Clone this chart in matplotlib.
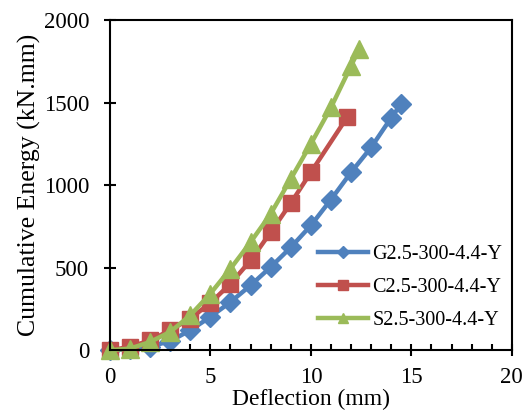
import numpy as np
import matplotlib
matplotlib.use('Agg')
import matplotlib.pyplot as plt
from matplotlib.ticker import MultipleLocator

plt.rcParams['font.family'] = ['Liberation Serif', 'DejaVu Serif']

# data
g_x = [0, 1, 2, 3, 4, 5, 6, 7, 8, 9, 10, 11, 12, 13, 14, 14.5]
g_y = [0, 6, 22, 55, 121, 202, 292, 393, 504, 623, 756, 913, 1078, 1229, 1409, 1493]

c_x = [0, 1, 2, 3, 4, 5, 6, 7, 8, 9, 10, 11.8]
c_y = [0, 20, 60, 121, 192, 286, 403, 544, 715, 891, 1078, 1411]

s_x = [0, 1, 2, 3, 4, 5, 6, 7, 8, 9, 10, 11, 12, 12.4]
s_y = [0, 10, 50, 111, 212, 343, 494, 655, 826, 1038, 1250, 1471, 1723, 1824]

labels = ['G2.5-300-4.4-Y', 'C2.5-300-4.4-Y', 'S2.5-300-4.4-Y']
colors = ['#4F81BD', '#C0504D', '#9BBB59']

fig = plt.figure(figsize=(5.26, 4.12), dpi=100)
ax = fig.add_axes([0.209, 0.150, 0.764, 0.801])

ax.plot(g_x, g_y, color=colors[0], lw=3.2, marker='D', ms=10, label=labels[0], clip_on=False)
ax.plot(c_x, c_y, color=colors[1], lw=3.2, marker='s', ms=12, label=labels[1], clip_on=False)
ax.plot(s_x, s_y, color=colors[2], lw=3.2, marker='^', ms=13, label=labels[2], clip_on=False)

ax.set_xlim(0, 20)
ax.set_ylim(0, 2000)
ax.xaxis.set_major_locator(MultipleLocator(5))
ax.xaxis.set_minor_locator(MultipleLocator(1))
ax.yaxis.set_major_locator(MultipleLocator(500))

for s in ax.spines.values():
    s.set_linewidth(1.5)
ax.tick_params(axis='both', which='major', direction='inout', length=8, width=1.5, labelsize=16.5)
ax.tick_params(axis='x', which='minor', direction='in', length=4, width=1.5)
ax.tick_params(axis='x', which='major', pad=8)
ax.tick_params(axis='y', which='major', pad=11)

ax.set_xlabel('Deflection (mm)', fontsize=17, labelpad=1)
ax.set_ylabel('Cumulative Energy (kN.mm)', fontsize=18.5, labelpad=2)

ax.legend(loc='center left', bbox_to_anchor=(0.493, 0.19), frameon=False, fontsize=14.5,
          handlelength=2.5, handletextpad=0.2, labelspacing=0.68, borderpad=0,
          markerscale=0.6)

fig.savefig('out.png', dpi=100)
